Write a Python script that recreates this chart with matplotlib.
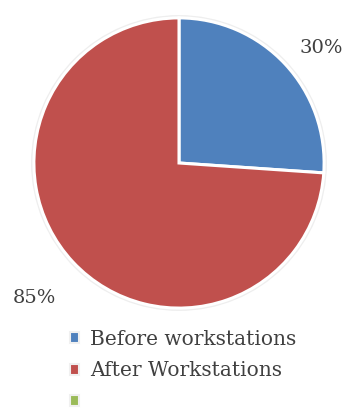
import numpy as np
import matplotlib
matplotlib.use("Agg")
import matplotlib.pyplot as plt
from matplotlib.patches import Patch

categories = ["Before workstations", "After Workstations", ""]
values = [30, 85, 0]
pct_labels = ["30%", "85%"]
colors = ["#4f81bd", "#c0504d", "#9bbb59"]

plt.rcParams["font.family"] = ["DejaVu Serif"]
text_color = "#404040"

W, H = 347, 408
fig = plt.figure(figsize=(W / 100, H / 100), dpi=100)
cx, cy, r = 179, 163, 148
ax = fig.add_axes([(cx - r) / W, (H - cy - r) / H, 2 * r / W, 2 * r / H])

shown = [v for v in values if v > 0]
wedges, _ = ax.pie(shown, colors=colors[:len(shown)], startangle=90,
                   counterclock=False, radius=1.0,
                   wedgeprops=dict(edgecolor="white", linewidth=2.2))
# soft outer rim
ax.add_patch(plt.Circle((0, 0), 1.01, fill=False, edgecolor="#eeeeee", linewidth=2, zorder=0))

# label placement: (radial distance, angular offset in degrees) per wedge
label_pos = [(1.26, -4), (1.36, 0)]
for w, lab, (d, off) in zip(wedges, pct_labels, label_pos):
    ang = np.deg2rad((w.theta1 + w.theta2) / 2 + off)
    t = ax.text(d * np.cos(ang), d * np.sin(ang), lab, ha="center", va="center",
                fontsize=14, color=text_color)
    t.set_clip_on(False)

ax.set_xlim(-1.02, 1.02)
ax.set_ylim(-1.02, 1.02)
ax.set_aspect("equal")
ax.axis("off")

handles = [Patch(facecolor=c, edgecolor="#f0f0f0", linewidth=1.5) for c in colors]
leg = fig.legend(handles, categories, loc="upper left", bbox_to_anchor=(70 / W, 1 - 330 / H),
                 frameon=False, fontsize=14.5, handlelength=0.45, handleheight=0.45,
                 handletextpad=0.55, labelspacing=0.62, borderpad=0, borderaxespad=0)
for t in leg.get_texts():
    t.set_color(text_color)

fig.savefig("out.png", dpi=100)
